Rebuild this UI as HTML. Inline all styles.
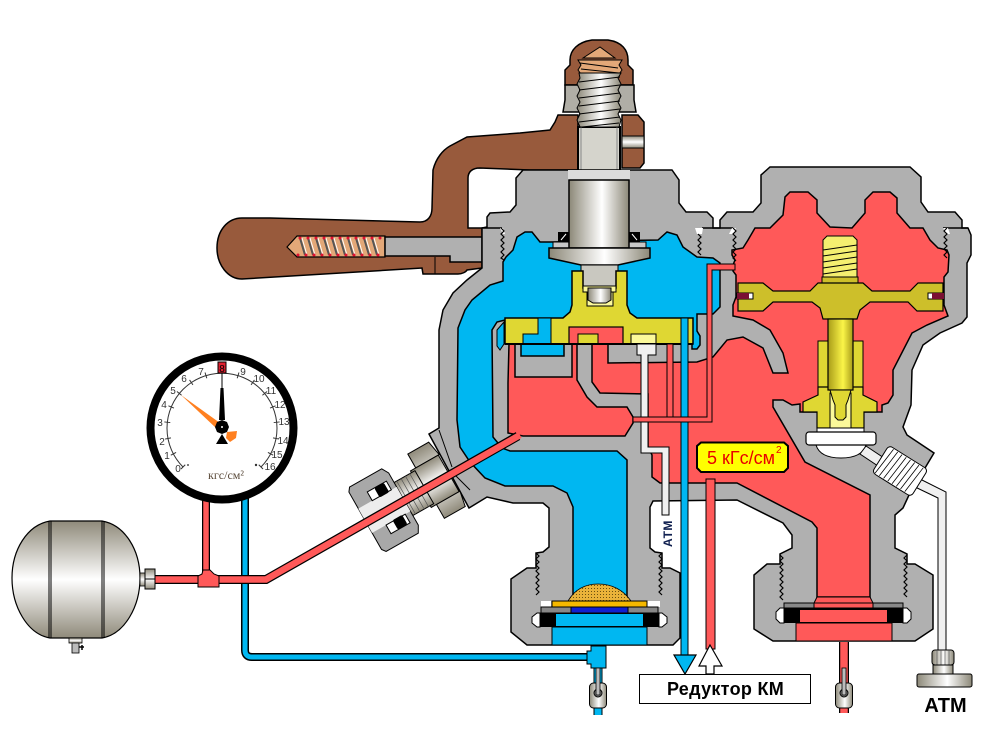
<!DOCTYPE html>
<html><head><meta charset="utf-8"><style>
html,body{margin:0;padding:0;background:#fff;width:992px;height:738px;overflow:hidden}
svg{display:block}
text{font-family:"Liberation Sans",sans-serif}
</style></head><body>
<svg width="992" height="738" viewBox="0 0 992 738" xmlns="http://www.w3.org/2000/svg">
<defs>
<linearGradient id="h" x1="0" x2="1" y1="0" y2="0"><stop offset="0" stop-color="#8c8878"/><stop offset=".55" stop-color="#fff"/><stop offset="1" stop-color="#8c8878"/></linearGradient>
<linearGradient id="v" x1="0" x2="0" y1="0" y2="1"><stop offset="0" stop-color="#8f8a7a"/><stop offset=".5" stop-color="#fff"/><stop offset="1" stop-color="#8f8a7a"/></linearGradient>
<linearGradient id="hy" x1="0" x2="1" y1="0" y2="0"><stop offset="0" stop-color="#a89c18"/><stop offset=".6" stop-color="#fbf548"/><stop offset="1" stop-color="#a89c18"/></linearGradient>
<pattern id="mesh" width="3" height="3" patternUnits="userSpaceOnUse"><rect width="3" height="3" fill="#eab33a"/><rect width="1" height="1" fill="#6b5010"/></pattern>
<g id="valve">
<rect x="-8.500" y="0" width="17" height="25" rx="4" fill="url(#h)" stroke="#000"/>
<circle cx="0" cy="10" r="4" fill="#888" stroke="#000"/>
<rect x="-2" y="-15" width="4" height="27" fill="#bbb" stroke="#000" stroke-width=".8"/>
</g>
</defs>

<!-- blue pipe from gauge -->
<path d="M245 495V650Q245 657 252 657H590" fill="none" stroke="#000" stroke-width="8"/>
<path d="M245 495V650Q245 657 252 657H590" fill="none" stroke="#00b7f1" stroke-width="5"/>

<!-- handle -->
<path d="M217 248C217 230 228 218 242 218L270 218 420 222C428 222 432 216 432 208L433 170C436 158 443 150 450 146L467 137 520 133 550 130 555 122 558 115 578 115 578 170 530 170 480 168C472 168 468 172 468 178L468 228 482 228 482 268 467 270C466 272 462 274 458 274L423 274 422 268 242 279C228 279 217 265 217 248Z" fill="#985a3c" stroke="#000" stroke-width="1.500"/>
<path d="M435 257V274" stroke="#000"/>
<path d="M622 115H638L644 122V163L640 168H622Z" fill="#985a3c" stroke="#000" stroke-width="1.500"/>
<rect x="622" y="136" width="22" height="12" fill="url(#v)" stroke="#000"/>
<path d="M287 247L297 236H385V257H297Z" fill="#e3a878" stroke="#000" stroke-width="1.200"/>
<path d="M300 238l5 17M308 238l5 17M316 238l5 17M324 238l5 17M332 238l5 17M340 238l5 17M348 238l5 17M356 238l5 17M364 238l5 17M372 238l5 17" stroke="#555" stroke-width="2"/>
<path d="M302 238l5 17M310 238l5 17M318 238l5 17M326 238l5 17M334 238l5 17M342 238l5 17M350 238l5 17M358 238l5 17M366 238l5 17M374 238l5 17" stroke="#fff" stroke-width="1"/>
<g fill="#e01030"><circle cx="300" cy="238" r="1.500"/><circle cx="308" cy="238" r="1.500"/><circle cx="316" cy="238" r="1.500"/><circle cx="324" cy="238" r="1.500"/><circle cx="332" cy="238" r="1.500"/><circle cx="340" cy="238" r="1.500"/><circle cx="348" cy="238" r="1.500"/><circle cx="356" cy="238" r="1.500"/><circle cx="364" cy="238" r="1.500"/><circle cx="372" cy="238" r="1.500"/><circle cx="380" cy="238" r="1.500"/><circle cx="298" cy="255" r="1.500"/><circle cx="306" cy="255" r="1.500"/><circle cx="314" cy="255" r="1.500"/><circle cx="322" cy="255" r="1.500"/><circle cx="330" cy="255" r="1.500"/><circle cx="338" cy="255" r="1.500"/><circle cx="346" cy="255" r="1.500"/><circle cx="354" cy="255" r="1.500"/><circle cx="362" cy="255" r="1.500"/><circle cx="370" cy="255" r="1.500"/><circle cx="378" cy="255" r="1.500"/></g>
<path d="M385 237H482V262H450V256H385Z" fill="#b0b0b0" stroke="#000" stroke-width="1.500"/>

<!-- top nut/dome -->
<path d="M565 85V70L570 65 570 60C570 50 578 42 592 40H608C622 42 628 50 628 60V65L633 70V85Z" fill="#985a3c" stroke="#000" stroke-width="1.500"/>
<path d="M583 58L600 47 615 58Z" fill="#e3a878" stroke="#000"/>
<path d="M578 60H622L619 65 622 70 619 74H581L578 70 581 65Z" fill="#e3a878" stroke="#000"/>
<path d="M580 63l38 5M581 69l38 4" stroke="#000"/>
<path d="M565 85H634V100L636 112H563L565 100Z" fill="#b0aea6" stroke="#000" stroke-width="1.500"/>
<path d="M578 127H620V180H578Z" fill="#d5d4cc" stroke="#000" stroke-width="2"/>
<path d="M581 127V178M617 127V178" stroke="#888"/>
<path d="M579 73H621L618 78 621 84 618 90 621 96 618 102 621 108 618 114 621 120 619 127H580L577 120 580 114 577 108 580 102 577 96 580 90 577 84 580 78Z" fill="url(#h)" stroke="#000"/>
<path d="M579 82l41-5M579 90l41-5M579 98l41-5M579 106l41-5M579 114l41-5M579 122l41-5M582 127l37-4" stroke="#000"/>

<!-- gray body -->
<path d="M487 227L487 217 490 213 510 212 516 205 516 178 523 170 672 170 679 180 679 203 686 212 707 212 713 218 713 228 720 228 720 220 727 212 753 212 761 203 761 175 770 167 910 167 921 177 921 202 928 212 955 212 962 220 962 228 968 228 971 235 971 255 967 263 967 317 962 323 940 333 923 345 912 370 911 405 903 427 907 435 934 453 925 468 909 495 903 508 895 515 895 548 907 554 907 564 915 564 933 575 933 629 915 641 773 641 754 629 754 575 767 564 780 564 780 554 792 548 792 535 783 523 737 500 653 501 650 507 650 548 655 552 662 553 662 568 670 568 680 573 680 638 673 645 527 645 511 632 511 579 527 568 536 568 536 553 543 552 549 547 549 508 543 503 513 503 487 497 469 508 429 434 439 428 439 330 443 310 453 293 467 280 482 268 482 228Z" fill="#b0b0b0" stroke="#000" stroke-width="1.500"/>
<path d="M439 430L452 467M455 475L470 490" stroke="#000" fill="none"/>
<rect x="568" y="170" width="62" height="10" fill="#dcdcdc"/>
<path d="M482 228H502M702 228H733M943 228H968" stroke="#000" stroke-width="1.500"/>

<!-- white thread pockets top -->
<path d="M695 228l2 6h5l1-6ZM732 228l-3 6 5 0 2-6ZM943 228l3 6 4 0-2-6ZM503 228l2 6-2 0-3-6Z" fill="#fff"/>

<!-- blue -->
<path d="M503 281L490 285 472 300 465 310 458 328 457 420 460 447 470 462 485 478 505 486 553 486 567 493 573 507V601H627V460L617 451 510 451 502 448 493 437 492 330 497 322 505 320H692V349H697L700 345 700 336 697 331 697 314 713 314 720 307 720 263 713 258 697 257 683 247 677 235 667 232 658 240 550 242 540 242 532 232 525 232 517 237 513 250 506 257 503 262Z" fill="#00b7f1" stroke="#000" stroke-width="1.500"/>
<path d="M497 330L504 322V344L500 350 497 346Z" fill="#00b7f1" stroke="#000"/>

<!-- red right + lower -->
<path d="M592 344L608 344 608 363 697 362 713 357 727 340 743 337 763 348 773 373 788 373 783 353 770 330 753 320 733 316 733 305 736 297 736 275 733 271 733 265 735 260 732 255 732 250 743 248 748 240 755 228 770 228 783 215 785 197 790 192 808 192 817 200 817 213 830 227 852 228 865 213 865 200 873 192 890 192 897 198 897 213 910 228 923 228 930 240 938 248 947 250 949 255 948 272 944 277 944 305 948 316 927 325 912 333 893 370 893 395 888 403 882 405 882 412 800 412 800 404 792 405 783 400 773 400 773 407 805 462 870 495 870 597 817 597 817 528 812 522 737 483 660 483 652 477 652 455 648 447 648 394 600 393 592 382Z" fill="#ff5959" stroke="#000" stroke-width="1.500"/>
<!-- red left chamber -->
<path d="M509 344L515 344 515 377 572 377 572 344 577 344 577 380 587 397 597 407 627 407 633 417 633 423 625 436 523 436 508 433 508 383Z" fill="#ff5959" stroke="#000" stroke-width="1.500"/>
<rect x="521" y="344" width="43" height="12" fill="#00b7f1" stroke="#000" stroke-width="1.500"/>

<!-- threads upper -->
<path d="M501 228l3 3-3 3 3 3-3 3 3 3-3 3 3 3-3 3 3 3-3 3 3 2M698 234l3 3-3 3 3 3-3 3 3 3-3 3 3 3M733 228l3 3-3 3 3 3-3 3 3 3-3 3 3 3-3 3 3 3-3 3 3 3M947 228l-3 3 3 3-3 3 3 3-3 3 3 3-3 3 3 3-3 3 3 3" fill="none" stroke="#000" stroke-width="1.200"/>
<!-- threads lower -->
<path d="M536 553l3 3-3 3 3 3-3 3 3 3-3 3 3 3-3 3 3 3-3 3 3 3-3 3 3 3-3 3M662 553l-3 3 3 3-3 3 3 3-3 3 3 3-3 3 3 3-3 3 3 3-3 3 3 3-3 3 3 3M780 555l3 3-3 3 3 3-3 3 3 3-3 3 3 3-3 3 3 3-3 3 3 3-3 3 3 3-3 3 3 3M907 555l-3 3 3 3-3 3 3 3-3 3 3 3-3 3 3 3-3 3 3 3-3 3 3 3-3 3 3 3" fill="none" stroke="#000" stroke-width="1.200"/>

<!-- stem & flange -->
<rect x="558" y="232" width="11" height="10" fill="#000"/><rect x="629" y="232" width="11" height="10" fill="#000"/>
<path d="M561 240l5-6M637 240l-5-6" stroke="#fff"/>
<rect x="553" y="242" width="16" height="6" fill="#c8c8c8" stroke="#000"/><rect x="629" y="242" width="17" height="6" fill="#c8c8c8" stroke="#000"/>
<rect x="569" y="180" width="60" height="68" fill="url(#h)" stroke="#000" stroke-width="1.500"/>
<path d="M549 248H650V258L618 265 581 265 549 258Z" fill="url(#h)" stroke="#000" stroke-width="1.500"/>
<path d="M581 265H618V272L616 286H583L581 272Z" fill="#c9c8c0" stroke="#000"/>

<!-- yellow plate -->
<path d="M572 271H583V288H616V271H627V305L630 313 637 318H693V344H505V318H563L570 312 572 305Z" fill="#dfd733" stroke="#000" stroke-width="1.500"/>
<path d="M587 288H613V306H587Z" fill="#fbf99a" stroke="#000"/>
<path d="M583 286H616V292H583Z" fill="#fbf99a" stroke="#000"/>
<path d="M588 288H611V300L606 303H593L588 300Z" fill="url(#h)" stroke="#000"/>
<path d="M538 318H551V344H523V334H538Z" fill="#00b7f1" stroke="#000"/>
<rect x="569" y="327" width="54" height="17" fill="#ff5959" stroke="#000" stroke-width="1.200"/>
<rect x="578" y="334" width="20" height="10" fill="#dfd733" stroke="#000"/>
<rect x="631" y="334" width="25" height="10" fill="#fbf99a" stroke="#000"/>
<path d="M505 344H693" stroke="#000" stroke-width="2"/>

<!-- ducts -->
<rect x="667" y="344" width="6" height="73" fill="#ff5959" stroke="#000"/>
<path d="M637 344H656V355H648V447H669V515H662V453H641V355H637Z" fill="#f0f0f0" stroke="#000"/>
<rect x="681" y="318" width="7" height="338" fill="#00b7f1" stroke="#000"/>
<path d="M674 655H696L685 674Z" fill="#00b7f1" stroke="#000" stroke-width="1.200"/>
<path d="M633 417H707V264H735V270H712V422H633Z" fill="#ff5959" stroke="#000"/>

<!-- right chamber T -->
<path d="M823 240L827 236H853L857 240V277H823Z" fill="#f4ef70" stroke="#000"/>
<path d="M823 250l34-5M823 256l34-5M823 262l34-5M823 268l34-5M823 274l34-5" stroke="#000"/>
<rect x="822" y="277" width="36" height="7" fill="#cdbf2a" stroke="#000"/>
<path d="M738 283H763L773 291H810L818 283H863L872 291H910L918 283H943V311H917L908 302H870L860 310 857 319H823L820 308 812 302H773L763 311H738Z" fill="#cdbf2a" stroke="#000" stroke-width="1.200"/>
<rect x="737" y="293" width="16" height="6" fill="#fff" stroke="#000"/><rect x="737" y="293" width="12" height="6" fill="#7a1033"/>
<rect x="928" y="293" width="16" height="6" fill="#fff" stroke="#000"/><rect x="932" y="293" width="12" height="6" fill="#7a1033"/>
<rect x="818" y="341" width="10" height="46" fill="#dfd733" stroke="#000"/>
<rect x="853" y="341" width="10" height="46" fill="#dfd733" stroke="#000"/>
<path d="M818 387H863V395L877 402V412H864V428H817V412H803V402L818 395Z" fill="#dfd733" stroke="#000" stroke-width="1.200"/>
<rect x="830" y="393" width="21" height="35" fill="#fbf99a" stroke="#000"/>
<rect x="828" y="319" width="25" height="71" fill="url(#hy)" stroke="#000" stroke-width="1.200"/>
<path d="M830 390H851L848 400 846 405V417L843 420H838L835 417V405L833 400Z" fill="#dfd733" stroke="#000"/>
<path d="M816 445Q820 458 841 458 862 458 866 445Z" fill="#fff" stroke="#000"/>
<rect x="817" y="428" width="47" height="5" fill="#fff" stroke="#000"/>
<rect x="806" y="432" width="70" height="13" rx="3" fill="#fff" stroke="#000" stroke-width="1.200"/>

<!-- right gland -->
<path d="M866 446L890 462 884 470 860 454Z" fill="#f0f0f0" stroke="#000"/>
<path d="M918 478L946 492V650H938V498L913 486Z" fill="#f0f0f0" stroke="#000"/>
<g transform="translate(900,471) rotate(32)">
<rect x="-23" y="-16" width="46" height="32" rx="4" fill="#fff" stroke="#000"/>
<path d="M-17-15l-3 30M-12-15l-3 30M-7-15l-3 30M-2-15l-3 30M3-15l-3 30M8-15l-3 30M13-15l-3 30M18-15l-3 30" stroke="#000" stroke-width=".8"/>
</g>

<!-- bottom left stack -->
<path d="M541 601H551V607H541ZM647 601H660V607H647Z" fill="#fff"/>
<path d="M537 613H540V627H537L532 623V617ZM659 613H662L667 617V623L662 627H659Z" fill="#fff" stroke="#000"/>
<path d="M568 601Q578 584 598 584 619 584 631 601Z" fill="url(#mesh)" stroke="#000" stroke-width=".8"/>
<rect x="552" y="601" width="95" height="6" fill="#f5b800" stroke="#000"/>
<rect x="541" y="607" width="117" height="6" fill="#888" stroke="#000"/>
<rect x="571" y="607" width="57" height="6" fill="#1020d0" stroke="#000"/>
<rect x="540" y="613" width="119" height="14" fill="#000"/>
<rect x="556" y="614" width="87" height="12" fill="#00b7f1"/>
<rect x="552" y="627" width="95" height="18" fill="#00b7f1" stroke="#000"/>

<!-- bottom right stack -->
<path d="M817 597H870L873 603H814Z" fill="#ff5959" stroke="#000"/>
<rect x="784" y="603" width="119" height="5" fill="#888" stroke="#000"/>
<rect x="814" y="603" width="59" height="5" fill="#ff5959" stroke="#000"/>
<path d="M784 608H780L776 612V619L780 623H784ZM903 608H907L911 612V619L907 623H903Z" fill="#fff" stroke="#000"/>
<rect x="784" y="608" width="119" height="15" fill="#000"/>
<rect x="800" y="610" width="87" height="12" fill="#ff5959"/>
<rect x="796" y="623" width="96" height="18" fill="#ff5959" stroke="#000"/>

<!-- pipes to reducer -->
<rect x="706" y="479" width="9" height="170" fill="#ff5959" stroke="#000"/>
<path d="M710 645L722 666H714V674H706V666H699Z" fill="#fff" stroke="#000" stroke-width="1.200"/>
<rect x="639.500" y="674.500" width="171" height="29" fill="#fff" stroke="#000"/>
<text x="725.500" y="695" font-size="18" font-weight="700" text-anchor="middle" fill="#000" letter-spacing=".3">Редуктор КМ</text>

<!-- label -->
<path d="M701 442.500H784L788 446V468L784 472H701L697 468V446Z" fill="#ffff00" stroke="#000" stroke-width="2"/>
<text x="707" y="464" font-size="18" fill="#e80000">5 кГс/см</text>
<text x="776" y="453" font-size="10" fill="#e80000">2</text>
<text transform="translate(672,547) rotate(-90)" font-size="12" font-weight="700" fill="#102050" letter-spacing=".5">АТМ</text>

<!-- lower left gland -->
<g transform="translate(400,501) rotate(-29.6)">
<path d="M30-37H54L57-21H30ZM30 21H57L54 37H30Z" fill="url(#v)" stroke="#000"/>
<path d="M24-21H56V21H24Z" fill="url(#v)" stroke="#000"/>
<rect x="-5" y="-19" width="33" height="38" fill="url(#v)" stroke="#000"/>
<path d="M2-19V19M7-19V19M12-19V19M17-19V19M22-19V19" stroke="#555" stroke-width=".7"/>
<path d="M-40-33L-37-37H0L4-30V30L0 37H-37L-40 33Z" fill="#a8a8a8" stroke="#000"/>
<rect x="-40" y="-14" width="44" height="28" fill="#ededed"/>
<path d="M-24-24H-2V-14H-24ZM-24 14H-2V24H-24Z" fill="#fff" stroke="#000"/>
<rect x="-16" y="-24" width="11" height="11" rx="2" fill="#000"/>
<rect x="-16" y="13" width="11" height="11" rx="2" fill="#000"/>
</g>

<!-- red pipes -->
<path d="M206 495V578" stroke="#000" stroke-width="8"/>
<path d="M150 579.500H266L518 436" fill="none" stroke="#000" stroke-width="9"/>
<path d="M206 495V578" stroke="#ff5959" stroke-width="5.500"/>
<path d="M150 579.500H266L520 435" fill="none" stroke="#ff5959" stroke-width="6.500"/>
<path d="M198 576V587H219V576L214 574 210 570H203L202 574Z" fill="#ff5959" stroke="#000"/>

<!-- receiver -->
<path d="M50 521H102C125 525 140 550 140 578 140 606 125 634 102 638H50C27 634 12 606 12 578 12 550 27 525 50 521Z" fill="url(#v)" stroke="#000" stroke-width="1.200"/>
<path d="M49 521V638M51 521V638M102 521V638M104 521V638" stroke="#000"/>
<rect x="140" y="573" width="5" height="13" fill="url(#v)" stroke="#000" stroke-width=".8"/>
<rect x="145" y="569" width="10" height="20" fill="url(#v)" stroke="#000"/>
<path d="M145 579H155" stroke="#000"/>
<rect x="69" y="638" width="13" height="5" fill="url(#v)" stroke="#000" stroke-width=".8"/>
<rect x="72" y="643" width="7" height="10" fill="#bbb" stroke="#000" stroke-width=".8"/>
<path d="M79 647H84M82 645V650" stroke="#000" stroke-width="1.500"/>

<!-- valves -->
<path d="M598 668V715" stroke="#000" stroke-width="9"/><path d="M598 668V715" stroke="#00b7f1" stroke-width="7"/>
<path d="M844 642V713" stroke="#000" stroke-width="10"/><path d="M844 642V713" stroke="#ff5959" stroke-width="7.500"/>
<path d="M587 651H591V646H606V668H591V664H587Z" fill="#00b7f1" stroke="#000"/>
<use href="#valve" x="598" y="683"/>
<use href="#valve" x="844" y="683"/>

<!-- ATM knob -->
<rect x="932" y="650" width="22" height="15" rx="3" fill="url(#h)" stroke="#000"/>
<path d="M937 650V665M941 650V665M945 650V665M949 650V665" stroke="#555" stroke-width=".7"/>
<rect x="933" y="665" width="20" height="9" fill="url(#h)" stroke="#000"/>
<rect x="917" y="674" width="55" height="13" rx="2" fill="url(#h)" stroke="#000"/>
<text x="945.500" y="712" font-size="20" font-weight="700" text-anchor="middle" fill="#000">АТМ</text>

<!-- gauge -->
<circle cx="222" cy="428" r="71.500" fill="#fff" stroke="#000" stroke-width="8"/>
<path d="M183 467A55 55 0 1 1 261 467" fill="none" stroke="#333"/>
<g stroke="#333">
<line x1="222" x2="222" y1="370" y2="376" transform="rotate(-135 222 428)"/>
<line x1="222" x2="222" y1="370" y2="376" transform="rotate(-118 222 428)"/>
<line x1="222" x2="222" y1="370" y2="376" transform="rotate(-101 222 428)"/>
<line x1="222" x2="222" y1="370" y2="376" transform="rotate(-84 222 428)"/>
<line x1="222" x2="222" y1="370" y2="376" transform="rotate(-67.500 222 428)"/>
<line x1="222" x2="222" y1="370" y2="376" transform="rotate(-51 222 428)"/>
<line x1="222" x2="222" y1="370" y2="376" transform="rotate(-34 222 428)"/>
<line x1="222" x2="222" y1="370" y2="376" transform="rotate(-17 222 428)"/>
<line x1="222" x2="222" y1="370" y2="376" transform="rotate(17 222 428)"/>
<line x1="222" x2="222" y1="370" y2="376" transform="rotate(34 222 428)"/>
<line x1="222" x2="222" y1="370" y2="376" transform="rotate(51 222 428)"/>
<line x1="222" x2="222" y1="370" y2="376" transform="rotate(67.500 222 428)"/>
<line x1="222" x2="222" y1="370" y2="376" transform="rotate(84 222 428)"/>
<line x1="222" x2="222" y1="370" y2="376" transform="rotate(101 222 428)"/>
<line x1="222" x2="222" y1="370" y2="376" transform="rotate(118 222 428)"/>
<line x1="222" x2="222" y1="370" y2="376" transform="rotate(135 222 428)"/>
</g>
<rect x="218" y="362" width="8" height="11" fill="#e02030" stroke="#000"/>
<text x="222" y="372" font-size="10" text-anchor="middle" fill="#000">8</text>
<g font-size="10" text-anchor="middle" fill="#333">
<text x="178" y="472">0</text><text x="167" y="459">1</text><text x="162" y="445">2</text><text x="160" y="426">3</text><text x="164" y="408">4</text><text x="173" y="394">5</text><text x="184" y="382">6</text><text x="201" y="375">7</text><text x="243" y="375">9</text><text x="259" y="382">10</text><text x="271" y="394">11</text><text x="280" y="408">12</text><text x="284" y="425">13</text><text x="283" y="444">14</text><text x="277" y="458">15</text><text x="270" y="470">16</text>
</g>
<text x="226" y="479" font-size="12" text-anchor="middle" fill="#5a4a3a" style="font-family:'Liberation Serif',serif">кгс/см²</text>
<circle cx="188" cy="465" r="1" fill="#555"/><circle cx="256" cy="465" r="1.200" fill="#333"/>
<path d="M181 395L220 423 216 428Z" fill="#ff8020"/>
<path d="M227 432L237 431 236 438 230 442 226 438Z" fill="#ff8020"/>
<path d="M220.500 388H223.500L225 420H219ZM221.500 373H222.500V388H221.500Z" fill="#000"/>
<path d="M222 434L228 444H216Z" fill="#000"/>
<path d="M217 422L222 420 227 422 229 427 227 432 222 434 217 432 215 427Z" fill="#000"/>
<circle cx="222" cy="427" r="1" fill="#fff"/>
</svg>
</body></html>
